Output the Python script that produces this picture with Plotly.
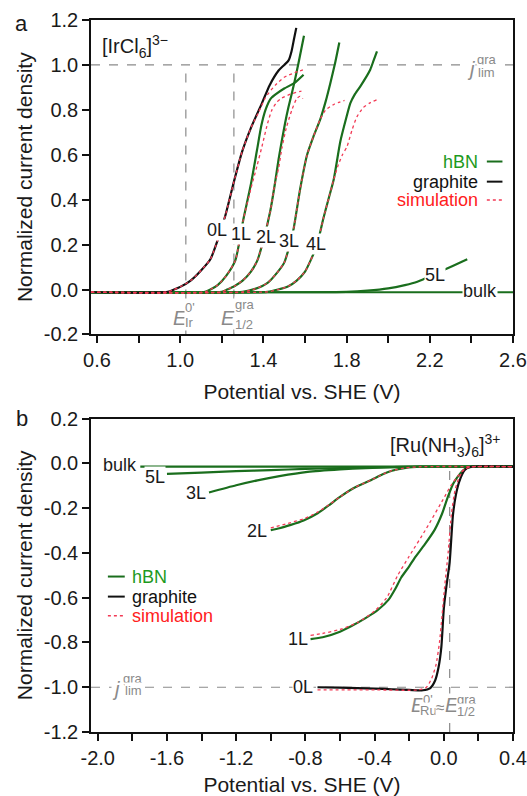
import plotly.graph_objects as go

# ---------------- Panel a: [IrCl6]3- oxidation ----------------
V0_A = [0.571, 0.94, 0.97, 1.00, 1.05, 1.10, 1.145, 1.18, 1.217, 1.258, 1.298, 1.34, 1.393, 1.43, 1.473, 1.50, 1.521, 1.535, 1.548, 1.558]
J0_A = [-0.012, -0.01, 0.0, 0.012, 0.04, 0.085, 0.135, 0.22, 0.33, 0.48, 0.615, 0.72, 0.83, 0.91, 0.975, 1.0, 1.02, 1.06, 1.12, 1.165]
V1_A = [0.571, 1.12, 1.145, 1.18, 1.22, 1.265, 1.303, 1.34, 1.369, 1.39, 1.41, 1.435, 1.46, 1.50, 1.55, 1.593]
J1_A = [-0.012, -0.01, 0.0, 0.02, 0.06, 0.13, 0.31, 0.47, 0.62, 0.73, 0.80, 0.85, 0.87, 0.895, 0.92, 0.956]
V2_A = [0.571, 1.20, 1.225, 1.26, 1.30, 1.34, 1.371, 1.40, 1.433, 1.455, 1.473, 1.49, 1.505, 1.52, 1.537, 1.553, 1.569, 1.582, 1.595]
J2_A = [-0.012, -0.01, 0.0, 0.015, 0.04, 0.08, 0.13, 0.22, 0.35, 0.47, 0.58, 0.67, 0.745, 0.81, 0.875, 0.94, 1.01, 1.07, 1.13]
V3_A = [0.571, 1.30, 1.36, 1.42, 1.47, 1.50, 1.524, 1.545, 1.577, 1.61, 1.64, 1.674, 1.70, 1.722, 1.745, 1.765]
J3_A = [-0.012, -0.01, 0.003, 0.03, 0.08, 0.12, 0.19, 0.27, 0.45, 0.60, 0.68, 0.76, 0.84, 0.92, 1.01, 1.10]
V4_A = [0.571, 1.42, 1.47, 1.52, 1.56, 1.60, 1.627, 1.658, 1.689, 1.715, 1.738, 1.77, 1.80, 1.818, 1.84, 1.866, 1.89, 1.914, 1.93, 1.946]
J4_A = [-0.012, -0.01, 0.0, 0.015, 0.04, 0.08, 0.13, 0.20, 0.32, 0.41, 0.49, 0.66, 0.77, 0.83, 0.87, 0.905, 0.94, 0.98, 1.02, 1.06]
V5_A = [0.571, 1.80, 1.90, 2.00, 2.08, 2.14, 2.19, 2.25, 2.31, 2.38]
J5_A = [-0.012, -0.01, -0.005, 0.005, 0.02, 0.035, 0.055, 0.08, 0.105, 0.135]
VBULK_A = [0.571, 2.6]
JBULK_A = [-0.012, -0.012]

S0_V_A = [0.571, 0.94, 0.97, 1.00, 1.05, 1.10, 1.145, 1.18, 1.217, 1.258, 1.298, 1.34, 1.377, 1.41, 1.457, 1.50, 1.55, 1.59]
S0_J_A = [-0.012, -0.01, 0.0, 0.012, 0.04, 0.085, 0.135, 0.22, 0.33, 0.48, 0.615, 0.72, 0.79, 0.855, 0.91, 0.945, 0.965, 0.978]
S1_V_A = [0.571, 1.12, 1.145, 1.18, 1.22, 1.265, 1.303, 1.34, 1.369, 1.393, 1.42, 1.441, 1.465, 1.489, 1.53, 1.577, 1.595]
S1_J_A = [-0.012, -0.01, 0.0, 0.02, 0.06, 0.13, 0.31, 0.45, 0.55, 0.637, 0.74, 0.80, 0.835, 0.853, 0.87, 0.882, 0.885]
S2_V_A = [0.571, 1.20, 1.225, 1.26, 1.30, 1.34, 1.371, 1.40, 1.433, 1.455, 1.473, 1.489, 1.51, 1.537, 1.56, 1.575, 1.59]
S2_J_A = [-0.012, -0.01, 0.0, 0.015, 0.04, 0.08, 0.13, 0.22, 0.35, 0.47, 0.54, 0.63, 0.72, 0.80, 0.85, 0.86, 0.85]
S3_V_A = [0.571, 1.30, 1.36, 1.42, 1.47, 1.50, 1.524, 1.545, 1.577, 1.61, 1.64, 1.674, 1.70, 1.74, 1.79]
S3_J_A = [-0.012, -0.01, 0.003, 0.03, 0.08, 0.12, 0.19, 0.27, 0.45, 0.60, 0.68, 0.76, 0.80, 0.825, 0.842]
S4_V_A = [0.571, 1.42, 1.47, 1.52, 1.56, 1.60, 1.627, 1.658, 1.689, 1.715, 1.738, 1.76, 1.78, 1.802, 1.826, 1.85, 1.88, 1.91, 1.946]
S4_J_A = [-0.012, -0.01, 0.0, 0.015, 0.04, 0.08, 0.13, 0.20, 0.32, 0.41, 0.49, 0.555, 0.60, 0.637, 0.71, 0.77, 0.81, 0.83, 0.845]

J_LIM_A = 1.0
E_IR = 1.027
E_HALF_A = 1.258

X_TICKS_A = [0.6, 1.0, 1.4, 1.8, 2.2, 2.6]
X_TICKTEXT_A = ["0.6", "1.0", "1.4", "1.8", "2.2", "2.6"]
Y_TICKS_A = [-0.2, 0.0, 0.2, 0.4, 0.6, 0.8, 1.0, 1.2]
Y_TICKTEXT_A = ["-0.2", "0.0", "0.2", "0.4", "0.6", "0.8", "1.0", "1.2"]

# ---------------- Panel b: [Ru(NH3)6]3+ reduction ----------------
VBULK_B = [-1.754, 0.4]
JBULK_B = [-0.015, -0.015]
V5_B = [-1.60, -1.4, -1.2, -1.0, -0.8, -0.6, -0.4, -0.2, 0.4]
J5_B = [-0.047, -0.041, -0.035, -0.03, -0.025, -0.021, -0.018, -0.016, -0.015]
V3_B = [-1.357, -1.2, -1.077, -0.95, -0.787, -0.6, -0.45, -0.3, -0.15, 0.4]
J3_B = [-0.13, -0.098, -0.076, -0.057, -0.038, -0.027, -0.021, -0.017, -0.015, -0.015]
V2_B = [-1.0, -0.95, -0.884, -0.81, -0.729, -0.66, -0.604, -0.52, -0.422, -0.35, -0.3, -0.22, -0.13, 0.4]
J2_B = [-0.298, -0.29, -0.275, -0.255, -0.223, -0.185, -0.152, -0.11, -0.075, -0.048, -0.033, -0.02, -0.015, -0.015]
V1_B = [-0.77, -0.7, -0.6, -0.536, -0.45, -0.381, -0.32, -0.28, -0.246, -0.2, -0.169, -0.11, -0.053, -0.01, 0.024, 0.055, 0.082, 0.121, 0.16, 0.4]
J1_B = [-0.785, -0.777, -0.752, -0.728, -0.69, -0.655, -0.61, -0.56, -0.51, -0.46, -0.423, -0.362, -0.297, -0.225, -0.149, -0.09, -0.058, -0.026, -0.016, -0.015]
V0_B = [-0.73, -0.6, -0.5, -0.4, -0.3, -0.2, -0.12, -0.08, -0.05, -0.03, -0.014, 0.0, 0.015, 0.034, 0.053, 0.07, 0.09, 0.121, 0.15, 0.4]
J0_B = [-1.0, -1.002, -1.004, -1.006, -1.009, -1.012, -1.014, -1.005, -0.97, -0.91, -0.82, -0.65, -0.55, -0.44, -0.23, -0.14, -0.08, -0.03, -0.016, -0.015]

S2_V_B = [-1.0, -0.9, -0.8, -0.729, -0.66, -0.604, -0.52, -0.422, -0.35, -0.3, -0.22, -0.13, 0.4]
S2_J_B = [-0.288, -0.268, -0.245, -0.218, -0.183, -0.152, -0.11, -0.075, -0.048, -0.033, -0.02, -0.015, -0.015]
S1_V_B = [-0.77, -0.7, -0.6, -0.5, -0.4, -0.33, -0.266, -0.2, -0.1, 0.005, 0.04, 0.08, 0.12, 0.16, 0.4]
S1_J_B = [-0.768, -0.76, -0.742, -0.712, -0.66, -0.6, -0.5, -0.415, -0.29, -0.149, -0.1, -0.058, -0.026, -0.016, -0.015]
S0_V_B = [-0.73, -0.4, -0.15, -0.1, -0.07, -0.045, -0.025, -0.01, 0.005, 0.025, 0.045, 0.065, 0.085, 0.115, 0.15, 0.4]
S0_J_B = [-1.012, -1.012, -1.012, -1.0, -0.96, -0.9, -0.8, -0.68, -0.55, -0.4, -0.22, -0.12, -0.07, -0.03, -0.016, -0.015]

J_LIM_B = -1.0
E_RU = 0.034

X_TICKS_B = [-2.0, -1.6, -1.2, -0.8, -0.4, 0.0, 0.4]
X_TICKTEXT_B = ["-2.0", "-1.6", "-1.2", "-0.8", "-0.4", "0.0", "0.4"]
Y_TICKS_B = [-1.2, -1.0, -0.8, -0.6, -0.4, -0.2, 0.0, 0.2]
Y_TICKTEXT_B = ["-1.2", "-1.0", "-0.8", "-0.6", "-0.4", "-0.2", "0.0", "0.2"]

# ---------------- styles ----------------
FONT = "Liberation Sans, Arial, Helvetica, sans-serif"
GREEN = "#1a6e1d"
GREEN_TXT = "#1e9a1e"
BLACK = "#111111"
RED = "#f23a55"
RED_TXT = "#ff2020"
GRAY = "#8a8a8a"
TXT = "#1a1a1a"

fig = go.Figure()


def data_line(x, y, color, ax, width=2.2):
    fig.add_trace(go.Scatter(x=x, y=y, mode="lines", xaxis=ax[0], yaxis=ax[1],
                             line=dict(color=color, width=width, shape="spline", smoothing=0.6),
                             showlegend=False, hoverinfo="skip"))


def sim_line(x, y, ax):
    fig.add_trace(go.Scatter(x=x, y=y, mode="lines", xaxis=ax[0], yaxis=ax[1],
                             line=dict(color=RED, width=1.3, dash="dot", shape="spline", smoothing=0.6),
                             showlegend=False, hoverinfo="skip"))


A = ("x", "y")
B = ("x2", "y2")

# reference dashed lines (panel a)
fig.add_trace(go.Scatter(x=[0.571, 2.6], y=[J_LIM_A, J_LIM_A], mode="lines", xaxis="x", yaxis="y",
                         line=dict(color=GRAY, width=1.2, dash="dash"), showlegend=False, hoverinfo="skip"))
for e in (E_IR, E_HALF_A):
    fig.add_trace(go.Scatter(x=[e, e], y=[-0.2, J_LIM_A], mode="lines", xaxis="x", yaxis="y",
                             line=dict(color=GRAY, width=1.2, dash="dash"), showlegend=False, hoverinfo="skip"))
# reference dashed lines (panel b)
fig.add_trace(go.Scatter(x=[-2.039, 0.4], y=[J_LIM_B, J_LIM_B], mode="lines", xaxis="x2", yaxis="y2",
                         line=dict(color=GRAY, width=1.2, dash="dash"), showlegend=False, hoverinfo="skip"))
fig.add_trace(go.Scatter(x=[E_RU, E_RU], y=[-1.2, -0.015], mode="lines", xaxis="x2", yaxis="y2",
                         line=dict(color=GRAY, width=1.2, dash="dash"), showlegend=False, hoverinfo="skip"))

# panel a curves
data_line(VBULK_A, JBULK_A, GREEN, A)
for vx, jy in ((V5_A, J5_A), (V4_A, J4_A), (V3_A, J3_A), (V2_A, J2_A), (V1_A, J1_A)):
    data_line(vx, jy, GREEN, A)
data_line(V0_A, J0_A, BLACK, A)
for vx, jy in ((S0_V_A, S0_J_A), (S1_V_A, S1_J_A), (S2_V_A, S2_J_A), (S3_V_A, S3_J_A), (S4_V_A, S4_J_A)):
    sim_line(vx, jy, A)

# panel b curves
data_line(VBULK_B, JBULK_B, GREEN, B)
for vx, jy in ((V5_B, J5_B), (V3_B, J3_B), (V2_B, J2_B), (V1_B, J1_B)):
    data_line(vx, jy, GREEN, B)
data_line(V0_B, J0_B, BLACK, B)
for vx, jy in ((S2_V_B, S2_J_B), (S1_V_B, S1_J_B), (S0_V_B, S0_J_B)):
    sim_line(vx, jy, B)

ann = []


def label(x, y, text, ax, size=18, color=TXT, bg="white", xanchor="center", italic=False):
    t = f"<i>{text}</i>" if italic else text
    ann.append(dict(x=x, y=y, xref=ax[0], yref=ax[1], text=t, showarrow=False,
                    font=dict(size=size, color=color, family=FONT), bgcolor=bg,
                    xanchor=xanchor, yanchor="middle", borderpad=0))


# curve labels panel a
for x, y, t in ((1.177, 0.266, "0L"), (1.293, 0.248, "1L"), (1.413, 0.232, "2L"),
                (1.524, 0.214, "3L"), (1.655, 0.204, "4L"), (2.223, 0.065, "5L"), (2.443, -0.005, "bulk")):
    label(x, y, t, A)
# curve labels panel b
for x, y, t in ((-1.871, -0.007, "bulk"), (-1.667, -0.059, "5L"), (-1.43, -0.133, "3L"),
                (-1.077, -0.30, "2L"), (-0.845, -0.783, "1L"), (-0.812, -0.999, "0L")):
    label(x, y, t, B)

# species
label(0.619, 1.08, "[IrCl<sub>6</sub>]<sup>3\u2212</sup>", A, size=20, xanchor="left", bg=None)
label(0.333, 0.079, "[Ru(NH<sub>3</sub>)<sub>6</sub>]<sup>3+</sup>", B, size=20, xanchor="right", bg=None)

# j_lim labels
label(2.397, 0.983, "j", A, size=20, color=GRAY, italic=True)
label(2.474, 1.025, "gra", A, size=13, color=GRAY)
label(2.474, 0.965, "lim", A, size=13, color=GRAY)
label(-1.893, -1.01, "j", B, size=20, color=GRAY, italic=True)
label(-1.796, -0.96, "gra", B, size=13, color=GRAY)
label(-1.796, -1.013, "lim", B, size=13, color=GRAY)

# potential labels panel a
label(1.0, -0.128, "E", A, size=20, color=GRAY, italic=True)
label(1.049, -0.08, "0'", A, size=13, color=GRAY)
label(1.046, -0.148, "Ir", A, size=13, color=GRAY)
label(1.23, -0.128, "E", A, size=20, color=GRAY, italic=True)
label(1.313, -0.068, "gra", A, size=13, color=GRAY)
label(1.308, -0.155, "1/2", A, size=13, color=GRAY)
# potential labels panel b
label(-0.149, -1.081, "E", B, size=20, color=GRAY, italic=True)
label(-0.092, -1.053, "0'", B, size=13, color=GRAY)
label(-0.087, -1.103, "Ru", B, size=13, color=GRAY)
label(-0.02, -1.089, "\u2248", B, size=16, color=GRAY)
label(0.05, -1.081, "E", B, size=20, color=GRAY, italic=True)
label(0.134, -1.054, "gra", B, size=13, color=GRAY)
label(0.128, -1.108, "1/2", B, size=13, color=GRAY)

# legends (text + line samples)
shapes = []
for yd, name, col, lcol, dash in ((0.55, "hBN", GREEN_TXT, GREEN, "solid"), (0.486, "graphite", BLACK, BLACK, "solid"),
                                  (0.428, "simulation", RED_TXT, RED, "dot")):
    ann.append(dict(x=0.922, y=yd, xref="x domain", yref="y domain", text=name, showarrow=False,
                    font=dict(size=18, color=col, family=FONT), xanchor="right", yanchor="middle"))
    shapes.append(dict(type="line", xref="x domain", yref="y domain", x0=0.938, x1=0.975, y0=yd, y1=yd,
                       line=dict(color=lcol, width=2 if dash == "solid" else 1.5, dash=dash)))
for yd, name, col, lcol, dash in ((0.496, "hBN", GREEN_TXT, GREEN, "solid"), (0.432, "graphite", BLACK, BLACK, "solid"),
                                  (0.371, "simulation", RED_TXT, RED, "dot")):
    ann.append(dict(x=0.0917, y=yd, xref="x2 domain", yref="y2 domain", text=name, showarrow=False,
                    font=dict(size=18, color=col, family=FONT), xanchor="left", yanchor="middle"))
    shapes.append(dict(type="line", xref="x2 domain", yref="y2 domain", x0=0.040, x1=0.080, y0=yd, y1=yd,
                       line=dict(color=lcol, width=2 if dash == "solid" else 1.5, dash=dash)))

# panel letters
ann.append(dict(x=-0.164, y=0.995, xref="paper", yref="paper", text="a", showarrow=False,
                font=dict(size=22, color=TXT, family=FONT), xanchor="center", yanchor="middle"))
ann.append(dict(x=-0.164, y=0.440, xref="paper", yref="paper", text="b", showarrow=False,
                font=dict(size=22, color=TXT, family=FONT), xanchor="center", yanchor="middle"))

axis_common = dict(showline=True, linecolor=BLACK, linewidth=1.5, mirror=True, ticks="outside",
                   ticklen=7, tickwidth=1.5, tickcolor=BLACK, showgrid=False, zeroline=False,
                   automargin=False, tickfont=dict(size=20, color=TXT, family=FONT))
xtitle = dict(text="Potential vs. SHE (V)", font=dict(size=21, color=TXT, family=FONT), standoff=14)
ytitle = dict(text="Normalized current density", font=dict(size=21, color=TXT, family=FONT), standoff=5)

fig.update_layout(
    width=527, height=796, margin=dict(l=91, r=14, t=20, b=64),
    paper_bgcolor="white", plot_bgcolor="white", showlegend=False,
    font=dict(family=FONT, color=TXT),
    xaxis=dict(range=[0.571, 2.6], domain=[0, 1], anchor="y", tickvals=X_TICKS_A, ticktext=X_TICKTEXT_A,
               minor=dict(tick0=0.6, dtick=0.2, ticks="outside", ticklen=7, tickwidth=1.5, tickcolor=BLACK),
               title=xtitle, **axis_common),
    yaxis=dict(range=[-0.2, 1.2], domain=[0.5583, 1.0], anchor="x", tickvals=Y_TICKS_A, ticktext=Y_TICKTEXT_A,
               title=ytitle, **axis_common),
    xaxis2=dict(range=[-2.039, 0.4], domain=[0, 1], anchor="y2", tickvals=X_TICKS_B, ticktext=X_TICKTEXT_B,
                minor=dict(tick0=-2.0, dtick=0.2, ticks="outside", ticklen=7, tickwidth=1.5, tickcolor=BLACK),
                title=xtitle, **axis_common),
    yaxis2=dict(range=[-1.2, 0.2], domain=[0.0, 0.4402], anchor="x2", tickvals=Y_TICKS_B, ticktext=Y_TICKTEXT_B,
                title=ytitle, **axis_common),
    annotations=ann, shapes=shapes,
)

# remove the default page margin so the 527x796 figure fills the window exactly
fig.write_html("out.html", config={"displayModeBar": False},
               post_script="document.body.style.margin='0';document.body.style.overflow='hidden';")
